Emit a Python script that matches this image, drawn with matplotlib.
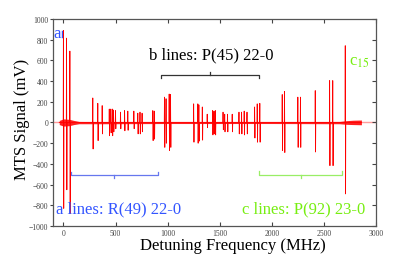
import numpy as np
import matplotlib
matplotlib.use('Agg')
import matplotlib.pyplot as plt

plt.rcParams['font.family'] = ['Liberation Serif', 'DejaVu Serif']
plt.rcParams['mathtext.fontset'] = 'stix'

# line centres (MHz) with the upper and lower extremes of the MTS signal (mV)
line_pos  = [0, 30, 62, 282, 330, 372, 440, 455, 470, 481, 500, 548, 587, 618, 676,
             714, 735, 755, 858, 872, 970, 985, 1015, 1028, 1250, 1290, 1300, 1333,
             1380, 1432, 1445, 1458, 1532, 1548, 1575, 1620, 1685, 1710, 1735, 1762,
             1835, 1860, 1885, 2100, 2122, 2250, 2275, 2417, 2555, 2585, 2705]
line_up   = [890, 815, 690, 237, 185, 163, 130, 130, 130, 120, 115, 100, 115, 110, 110,
             90, 100, 90, 115, 110, 245, 230, 275, 270, 180, 180, 170, 150,
             80, 115, 110, 115, 100, 80, 80, 80, 100, 100, 110, 100,
             150, 180, 185, 270, 300, 245, 245, 308, 405, 405, 742]
line_down = [-830, -650, -880, -256, -175, -110, -128, -100, -128, -90, -60, -60, -80, -75, -60,
             -110, -110, -90, -175, -160, -240, -200, -270, -240, -190, -200, -180, -170,
             -50, -120, -110, -120, -70, -90, -90, -90, -110, -110, -120, -110,
             -150, -190, -190, -270, -290, -240, -240, -285, -417, -417, -690]

# baseline noise envelope
noise_x  = [-40, 0, 60, 100, 150, 400, 1000, 2000, 2650, 2720, 2780, 2860]
noise_hi = [20, 35, 30, 20, 10, 8, 8, 8, 10, 18, 22, 24]
noise_lo = [-20, -35, -30, -20, -12, -12, -10, -10, -12, -18, -20, -22]

# brackets: start, end, level, end-tick, middle position, middle-tick
br_start = [74, 939, 1878]
br_end   = [907, 1878, 2673]
br_level = [-510, 459, -507]
br_etick = [35, -25, 35]
br_mid   = [484, 1410, 2279]
br_mtick = [-25, 25, -25]
br_color = ['#6677ee', '#333333', '#99ee66']

blue = '#3355ff'
green = '#77ee11'

# build trace
xs, ys = [noise_x[0]], [0]
for p, u, d in zip(line_pos, line_up, line_down):
    xs += [p - 2, p, p + 3, p + 5]
    ys += [0, u, d, 0]
xs.append(noise_x[-1])
ys.append(0)

fig = plt.figure(figsize=(4.15, 2.55), dpi=100)
ax = fig.add_axes([0.1277, 0.1098, 0.7783, 0.8118])

ax.axhline(0, color='#ff9d9d', lw=1.0, zorder=1)
ax.fill_between(noise_x, noise_lo, noise_hi, color='#ff2020', lw=0, zorder=2)
ax.plot(xs, ys, color='#ff0000', lw=0.6, zorder=3)

for s, e, lv, et, m, mt, c in zip(br_start, br_end, br_level, br_etick, br_mid, br_mtick, br_color):
    ax.plot([s, s, e, e], [lv + et, lv, lv, lv + et], color=c, lw=0.9)
    ax.plot([m, m], [lv, lv + mt], color=c, lw=0.9)

ax.text(-70, -830, 'a lines: R(49) 22-0', color=blue, fontsize=12, ha='left', va='center')
ax.text(1418, 662, 'b lines: P(45) 22-0', color='black', fontsize=12, ha='center', va='center')
ax.text(2894, -830, 'c lines: P(92) 23-0', color=green, fontsize=12, ha='right', va='center')
ax.text(-58, 865, 'a', color=blue, fontsize=12, ha='center', va='center')
ax.plot([-10, -10], [825, 880], color=blue, lw=1.0)
ax.text(2740, 558, r'c$_{15}$', color=green, fontsize=12, ha='left', va='baseline')

ax.set_xlim(-100, 3000)
ax.set_ylim(-1000, 1000)
ax.set_xticks([0, 500, 1000, 1500, 2000, 2500, 3000])
ax.set_yticks(np.arange(-1000, 1001, 200))
ax.tick_params(axis='x', direction='in', top=True, length=3, width=0.8,
               labelsize=5.5, colors='#444444', pad=2)
ax.tick_params(axis='y', direction='out', length=2.5, width=0.8,
               labelsize=5.5, colors='#444444', pad=1, right=True)
for sp in ax.spines.values():
    sp.set_color('#555555')
    sp.set_linewidth(0.9)

# right ticks point inward
for t in ax.yaxis.get_major_ticks():
    t.tick2line.set_marker(matplotlib.lines.TICKLEFT)
    t.tick2line.set_markersize(3)

fig.text(233 / 415, 1 - 246 / 255, 'Detuning Frequency (MHz)', fontsize=12, ha='center', va='center')
fig.text(22 / 415, 1 - 119 / 255, 'MTS Signal (mV)', fontsize=12, rotation=90, ha='center', va='center')

fig.savefig('out.png', dpi=100)
